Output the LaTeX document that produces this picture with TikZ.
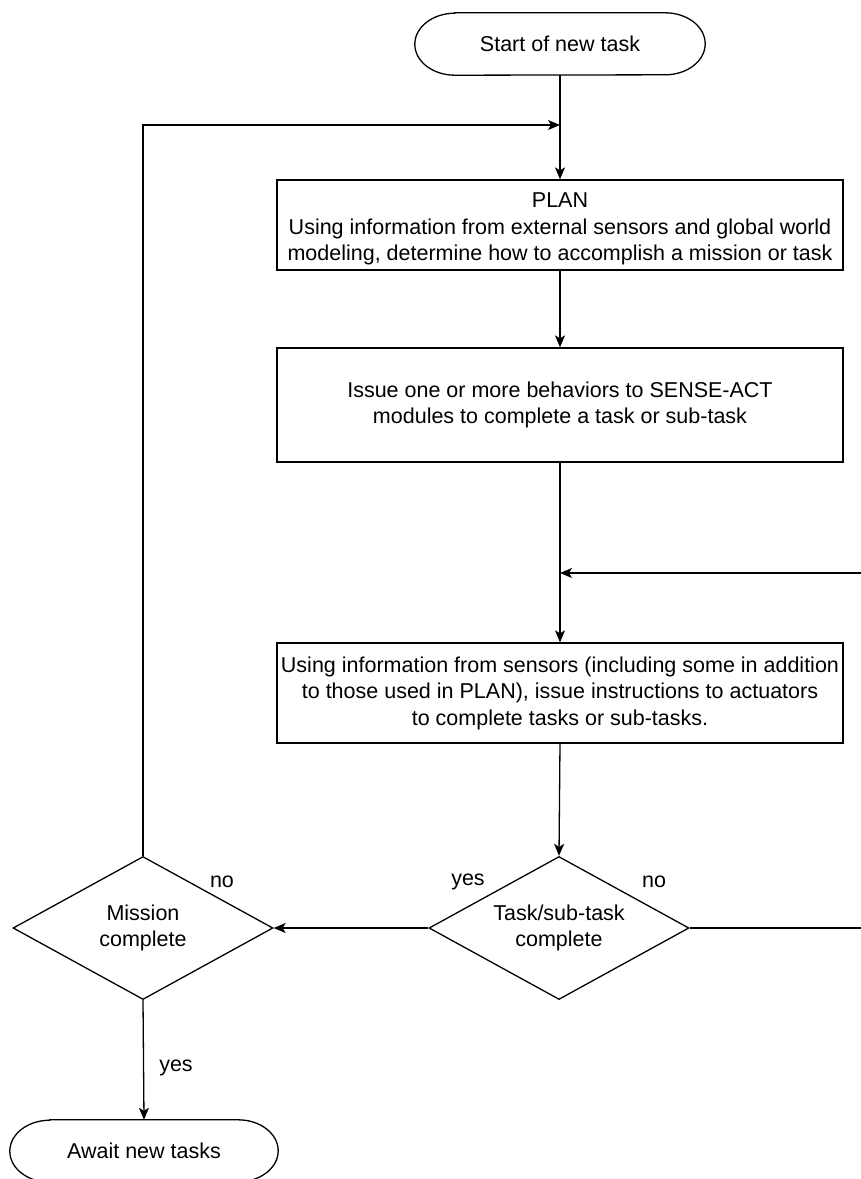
\documentclass[tikz,border=0pt]{standalone}
\usepackage{fontspec}
\setmainfont{Liberation Sans}
\usetikzlibrary{shapes.geometric,arrows.meta}
\begin{document}
\begin{tikzpicture}[x=1pt,y=-1pt,
  every node/.style={font=\fontsize{21.5}{26.5}\selectfont},
  line/.style={line width=1.3pt, draw=black},
  arr/.style={line, -{Stealth[length=12pt,width=10pt,inset=3pt]}},
  procbox/.style={draw, line width=1.3pt, minimum width=566pt, align=center, inner sep=0pt},
  decision/.style={draw, line width=1.3pt, diamond, minimum width=260pt, minimum height=143pt, aspect=1.818, align=center, inner sep=0pt},
  termbox/.style={minimum width=290pt, minimum height=62pt, align=center, inner sep=0pt},
  lbl/.style={font=\fontsize{21.5}{26}\selectfont}]
\useasboundingbox (0,0) rectangle (861,1179);
\clip (0,0) rectangle (861,1179);
\fill[white] (0,0) rectangle (861,1179);

% start terminal
\node[termbox] (start) at (560,44) {Start of new task};
\draw[line] ([xshift=40pt]start.north west) -- ([xshift=-40pt]start.north east)
  arc[start angle=90,end angle=-90,x radius=40pt,y radius=31pt]
  -- ([xshift=40pt]start.south west)
  arc[start angle=270,end angle=90,x radius=40pt,y radius=31pt] -- cycle;

\node[procbox, minimum height=90pt] (plan) at (560,225) {};
\node[align=center, inner sep=0pt] (plantext) at (560,229) {PLAN\\Using information from external sensors and global world\\modeling, determine how to accomplish a mission or task};
\node[procbox, minimum height=114pt] (issue) at (560,405) {Issue one or more behaviors to SENSE-ACT\\modules to complete a task or sub-task};
\node[procbox, minimum height=100pt] (sense) at (560,693) {Using information from sensors (including some in addition\\to those used in PLAN), issue instructions to actuators\\to complete tasks or sub-tasks.};

\node[decision] (task) at (559,928) {Task/sub-task\\complete};
\node[decision] (mission) at (143,928) {Mission\\complete};

% await terminal
\node[termbox, minimum width=268pt] (await) at (144,1151) {Await new tasks};
\draw[line] ([xshift=40pt]await.north west) -- ([xshift=-40pt]await.north east)
  arc[start angle=90,end angle=-90,x radius=40pt,y radius=31pt]
  -- ([xshift=40pt]await.south west)
  arc[start angle=270,end angle=90,x radius=40pt,y radius=31pt] -- cycle;

% coordinates
\coordinate (loopjoin) at (560,125);
\coordinate (loopcorner) at (143,125);
\coordinate (retjoin) at (560,573);
\coordinate (retright) at (861,573);
\coordinate (noright) at (861,928);

% connectors
\draw[arr] (start.south) -- (plan.north);
\draw[arr] (mission.north) -- (loopcorner) -- (loopjoin);
\draw[arr] (plan.south) -- (issue.north);
\draw[arr] (issue.south) -- (sense.north);
\draw[arr] (retright) -- (retjoin);
\draw[arr] (sense.south) -- (task.north);
\draw[arr] (task.west) -- (mission.east);
\draw[line] (task.east) -- (noright);
\draw[arr] (mission.south) -- (await.north);

% labels
\node[lbl] (lno1) at (222,882) {no};
\node[lbl] (lyes1) at (468,882) {yes};
\node[lbl] (lno2) at (654,882) {no};
\node[lbl] (lyes2) at (176,1068) {yes};
\end{tikzpicture}
\end{document}
